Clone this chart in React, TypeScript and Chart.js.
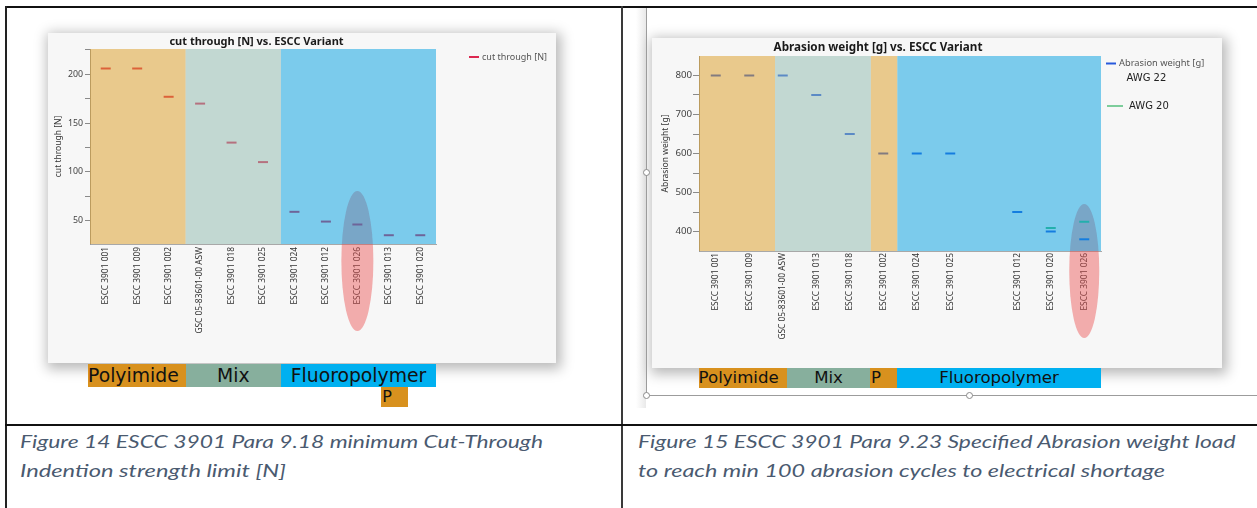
import React, { useEffect, useLayoutEffect, useRef } from 'react';
import { Chart, registerables } from 'chart.js';

Chart.register(...registerables);

// ---------- data ----------
const cutCategories = [
  'ESCC 3901 001', 'ESCC 3901 009', 'ESCC 3901 002', 'GSC 05-83601-00 ASW', 'ESCC 3901 018',
  'ESCC 3901 025', 'ESCC 3901 024', 'ESCC 3901 012', 'ESCC 3901 026', 'ESCC 3901 013', 'ESCC 3901 020',
];
const cutThrough = [206, 206, 177, 170, 130, 110, 59, 49, 46, 35, 35];
const cutTicks = [50, 100, 150, 200];
const cutMinorTicks = [75, 125, 175, 225];

const abrasionCategories = [
  'ESCC 3901 001', 'ESCC 3901 009', 'GSC 05-83601-00 ASW', 'ESCC 3901 013', 'ESCC 3901 018',
  'ESCC 3901 002', 'ESCC 3901 024', 'ESCC 3901 025', '', 'ESCC 3901 012', 'ESCC 3901 020', 'ESCC 3901 026',
];
const abrasionAwg22 = [800, 800, 800, 750, 650, 600, 600, 600, null, 450, 400, 380];
const abrasionAwg20 = [null, null, null, null, null, null, null, null, null, null, 409, 425];
const abrasionTicks = [400, 500, 600, 700, 800];
const abrasionMinorTicks = [450, 550, 650, 750];

// material regions, in category-index units
const cutBandEdges = [-0.5, 2.54, 5.57, 10.5];
const cutBandMaterials = ['Polyimide', 'Mix', 'Fluoropolymer'];
const abrasionBandEdges = [-0.5, 1.77, 4.63, 5.42, 11.5];
const abrasionBandMaterials = ['Polyimide', 'Mix', 'Polyimide', 'Fluoropolymer'];
const highlighted = 'ESCC 3901 026';

const captionLeft = ['Figure 14 ESCC 3901 Para 9.18 minimum Cut-Through', 'Indention strength limit [N]'];
const captionRight = [
  'Figure 15 ESCC 3901 Para 9.23 Specified Abrasion weight load',
  'to reach min 100 abrasion cycles to electrical shortage',
];

// ---------- styles ----------
const bandColor: Record<string, string> = {
  Polyimide: 'rgba(219,155,33,0.5)',
  Mix: 'rgba(141,185,173,0.5)',
  Fluoropolymer: 'rgba(0,159,225,0.5)',
};
const boxColor: Record<string, string> = {
  Polyimide: '#D8911E',
  Mix: '#87AF9D',
  Fluoropolymer: '#00B0F0',
};
const FONT = "'Noto Sans', sans-serif";

const buildBands = (edges: number[], mats: string[]) =>
  mats.map((m, i) => ({ from: edges[i], to: edges[i + 1], color: bandColor[m] }));

const decorPlugin = {
  id: 'decor',
  beforeDatasetsDraw(chart: any, _a: any, opts: any) {
    const { ctx, chartArea } = chart;
    const xs = chart.scales.x;
    const idx = (xs.getLabels() as string[]).indexOf(opts.highlight);
    if (idx < 0) return;
    const cx = xs.getPixelForValue(idx);
    ctx.save();
    ctx.fillStyle = 'rgba(235,80,80,0.45)';
    ctx.beginPath();
    ctx.ellipse(cx, chartArea.bottom + opts.ellDy, opts.ellRx, opts.ellRy, 0, 0, Math.PI * 2);
    ctx.fill();
    ctx.restore();
  },
  afterDatasetsDraw(chart: any, _a: any, opts: any) {
    const { ctx, chartArea } = chart;
    const xs = chart.scales.x;
    const x0 = xs.getPixelForValue(0);
    const step = xs.getPixelForValue(1) - x0;
    const px = (f: number) => x0 + f * step;
    ctx.save();
    ctx.beginPath();
    ctx.rect(chartArea.left, chartArea.top, chartArea.right - chartArea.left, chartArea.bottom - chartArea.top);
    ctx.clip();
    for (const b of opts.bands) {
      ctx.fillStyle = b.color;
      ctx.fillRect(px(b.from), chartArea.top, px(b.to) - px(b.from), chartArea.bottom - chartArea.top);
    }
    ctx.restore();
  },
  afterDraw(chart: any, _a: any, opts: any) {
    const { ctx } = chart;
    ctx.save();
    ctx.font = `bold ${opts.titleSize}px ${FONT}`;
    ctx.fillStyle = '#1a1a1a';
    ctx.textAlign = 'center';
    ctx.textBaseline = 'middle';
    ctx.fillText(opts.title, opts.titleX, opts.titleY);
    const ds = chart.data.datasets;
    opts.legend.forEach((it: any, i: number) => {
      const d = ds[i];
      ctx.strokeStyle = it.swatch || d.borderColor;
      ctx.lineWidth = 2;
      ctx.beginPath();
      ctx.moveTo(it.x, it.y);
      ctx.lineTo(it.x + it.w, it.y);
      ctx.stroke();
      ctx.font = `${it.size}px ${it.family || FONT}`;
      ctx.fillStyle = it.color;
      ctx.textAlign = 'left';
      ctx.fillText(it.text || d.label, it.x + it.w + it.gap, it.y);
    });
    for (const n of opts.notes || []) {
      ctx.font = `${n.size}px ${n.family}`;
      ctx.fillStyle = n.color;
      ctx.textAlign = 'left';
      ctx.fillText(n.text, n.x, n.y);
    }
    ctx.restore();
  },
};

function makeConfig(p: any): any {
  const allTicks = [...p.majorTicks, ...p.minorTicks].sort((a: number, b: number) => a - b);
  return {
    type: 'line',
    data: {
      labels: p.labels,
      datasets: p.datasets.map((d: any) => ({
        label: d.label,
        data: d.data,
        showLine: false,
        pointStyle: 'line',
        pointRadius: 5,
        pointHoverRadius: 5,
        pointBorderWidth: 2,
        borderColor: d.color,
        pointBorderColor: d.color,
        backgroundColor: d.color,
      })),
    },
    plugins: [decorPlugin],
    options: {
      animation: false,
      responsive: false,
      devicePixelRatio: 1,
      events: [],
      layout: { padding: { left: 0, top: p.padTop, right: p.padRight, bottom: 0 } },
      plugins: {
        legend: { display: false },
        title: { display: false },
        tooltip: { enabled: false },
        decor: p.decor,
      },
      scales: {
        x: {
          type: 'category',
          offset: true,
          grid: { display: false, drawTicks: false },
          border: { display: true, color: '#a8a8a8', width: 1 },
          ticks: {
            autoSkip: false,
            minRotation: 90,
            maxRotation: 90,
            padding: p.xPad,
            color: '#333333',
            font: { family: FONT, size: 8.4 },
          },
          afterFit: (s: any) => { s.height = p.xHeight; },
        },
        y: {
          type: 'linear',
          min: p.yMin,
          max: p.yMax,
          afterBuildTicks: (s: any) => { s.ticks = allTicks.map((v: number) => ({ value: v })); },
          grid: { drawOnChartArea: false, drawTicks: true, tickLength: p.tickLen, color: '#8a8a8a' },
          border: { display: true, color: '#9a9a9a', width: 1 },
          ticks: {
            padding: p.yPad,
            color: '#444444',
            font: { family: FONT, size: p.yTickSize },
            callback: (v: any) => (p.majorTicks.includes(Number(v)) ? String(v) : ''),
          },
          title: {
            display: true,
            text: p.yTitle,
            color: '#333333',
            font: { family: FONT, size: 8.5 },
            padding: { top: p.yTitlePad, bottom: 0 },
          },
          afterFit: (s: any) => { s.width = p.yWidth; },
        },
      },
    },
  };
}

const leftConfig = () =>
  makeConfig({
    labels: cutCategories,
    datasets: [{ label: 'cut through [N]', data: cutThrough, color: 'rgb(220,40,80)' }],
    padTop: 16, padRight: 120, xHeight: 119, xPad: 3,
    yMin: 26, yMax: 226, majorTicks: cutTicks, minorTicks: cutMinorTicks, tickLen: 5, yPad: 2, yTickSize: 8.8,
    yTitle: 'cut through [N]', yTitlePad: 5, yWidth: 42,
    decor: {
      highlight: highlighted, ellDy: 17, ellRx: 16, ellRy: 70,
      bands: buildBands(cutBandEdges, cutBandMaterials),
      title: 'cut through [N] vs. ESCC Variant', titleX: 208.5, titleY: 8.5, titleSize: 11,
      legend: [{ x: 421, y: 24, w: 10, gap: 3, size: 9, color: '#555555' }],
    },
  });

const rightConfig = () =>
  makeConfig({
    labels: abrasionCategories,
    datasets: [
      { label: 'Abrasion weight [g]', data: abrasionAwg22, color: 'rgb(40,90,220)' },
      { label: 'AWG 20', data: abrasionAwg20, color: 'rgb(70,190,120)' },
    ],
    padTop: 18, padRight: 121, xHeight: 117, xPad: 2,
    yMin: 350, yMax: 850, majorTicks: abrasionTicks, minorTicks: abrasionMinorTicks, tickLen: 6, yPad: 1, yTickSize: 9.7,
    yTitle: 'Abrasion weight [g]', yTitlePad: 8, yWidth: 47,
    decor: {
      highlight: highlighted, ellDy: 20, ellRx: 15, ellRy: 67,
      bands: buildBands(abrasionBandEdges, abrasionBandMaterials),
      title: 'Abrasion weight [g] vs. ESCC Variant', titleX: 226, titleY: 10, titleSize: 11.7,
      legend: [
        { x: 454, y: 25.5, w: 10, gap: 3, size: 9.3, color: '#555555' },
        { x: 455, y: 68, w: 16, gap: 6, size: 10, color: '#222222', family: "'DejaVu Sans', sans-serif", swatch: 'rgb(125,205,155)' },
      ],
      notes: [{ text: 'AWG 22', x: 474.5, y: 40, size: 10, color: '#222222', family: "'DejaVu Sans', sans-serif" }],
    },
  });

function ChartPanel({ config, left, top, width, height }: any) {
  const ref = useRef<HTMLCanvasElement>(null);
  useEffect(() => {
    const chart = new Chart(ref.current as HTMLCanvasElement, config());
    return () => chart.destroy();
  }, []);
  return (
    <div
      style={{
        position: 'absolute', left, top, width, height, background: '#f7f7f7',
        boxShadow: '2px 3px 12px 3px rgba(0,0,0,0.28)',
      }}
    >
      <canvas ref={ref} width={width} height={height} style={{ display: 'block', width, height }} />
    </div>
  );
}

function FitText({ text, left, top, width, size, color, family, italic, weight }: any) {
  const ref = useRef<HTMLSpanElement>(null);
  useLayoutEffect(() => {
    const el = ref.current;
    if (!el) return;
    el.style.transform = 'none';
    const w = el.getBoundingClientRect().width;
    if (w > 0) el.style.transform = `scaleX(${width / w})`;
  }, [text, width]);
  return (
    <span
      ref={ref}
      style={{
        position: 'absolute', left, top, whiteSpace: 'nowrap', transformOrigin: '0 0',
        fontFamily: family, fontSize: size, fontStyle: italic ? 'italic' : 'normal', fontWeight: weight || 400,
        color, lineHeight: 1,
      }}
    >
      {text}
    </span>
  );
}

function Box({ label, left, top, width, height, size, align, textLeft }: any) {
  return (
    <div
      style={{
        position: 'absolute', left, top, width, height, background: boxColor[label === 'P' ? 'Polyimide' : label],
        fontFamily: "'DejaVu Sans', sans-serif", fontSize: size, lineHeight: `${height}px`, color: '#111',
        textAlign: align, whiteSpace: 'nowrap', overflow: 'visible', paddingLeft: textLeft || 0, boxSizing: 'border-box',
      }}
    >
      {label}
    </div>
  );
}

export default function App() {
  const line = (s: any) => <div style={{ position: 'absolute', ...s }} />;
  const cap = { size: 16.8, color: '#4a5a70', family: 'Lato, sans-serif', italic: true, weight: 400 };
  return (
    <div style={{ position: 'fixed', left: 0, top: 0, width: 1257, height: 508, background: '#fff', overflow: 'hidden' }}>
      {line({ left: 636, top: 8, width: 10, height: 400, background: 'linear-gradient(90deg, #ffffff, #e9e9e9)' })}
      <ChartPanel config={leftConfig} left={48} top={33} width={508} height={330} />
      <ChartPanel config={rightConfig} left={652} top={38} width={570} height={330} />

      {line({ left: 646, top: 8, width: 1, height: 387, background: '#9c9c9c' })}
      {line({ left: 646, top: 395, width: 611, height: 1, background: '#9c9c9c' })}
      {[[646, 172], [646, 395], [969, 395]].map(([x, y], i) => (
        <div key={i} style={{ position: 'absolute', left: x - 3.5, top: y - 3.5, width: 7, height: 7, borderRadius: '50%', background: '#fff', border: '1px solid #8a8a8a', boxSizing: 'border-box' }} />
      ))}

      <Box label="Polyimide" left={88} top={364} width={97.7} height={23} size={18.8} align="left" textLeft={0} />
      <Box label="Mix" left={185.7} top={364} width={95.3} height={23} size={18.8} align="center" />
      <Box label="Fluoropolymer" left={281} top={364} width={155} height={23} size={18.8} align="center" />
      <Box label="P" left={380.7} top={387} width={27.3} height={20} size={16} align="left" textLeft={1.5} />
      <Box label="Polyimide" left={698.6} top={368.3} width={88.4} height={20} size={16.6} align="left" />
      <Box label="Mix" left={787} top={368.3} width={83} height={20} size={16.6} align="center" />
      <Box label="P" left={870} top={368.3} width={27} height={20} size={16.6} align="left" textLeft={1} />
      <Box label="Fluoropolymer" left={897} top={368.3} width={204} height={20} size={16.6} align="center" />

      {line({ left: 5, top: 6, width: 1252, height: 2, background: '#111' })}
      {line({ left: 5, top: 6, width: 1.5, height: 502, background: '#222' })}
      {line({ left: 621, top: 6, width: 2, height: 502, background: '#3a3a3a' })}
      {line({ left: 5, top: 424, width: 1252, height: 2, background: '#111' })}

      <FitText text={captionLeft[0]} left={20} top={434} width={523} {...cap} />
      <FitText text={captionLeft[1]} left={20} top={463} width={266} {...cap} />
      <FitText text={captionRight[0]} left={637.5} top={434} width={597.5} {...cap} />
      <FitText text={captionRight[1]} left={637.5} top={463} width={527} {...cap} />
    </div>
  );
}
